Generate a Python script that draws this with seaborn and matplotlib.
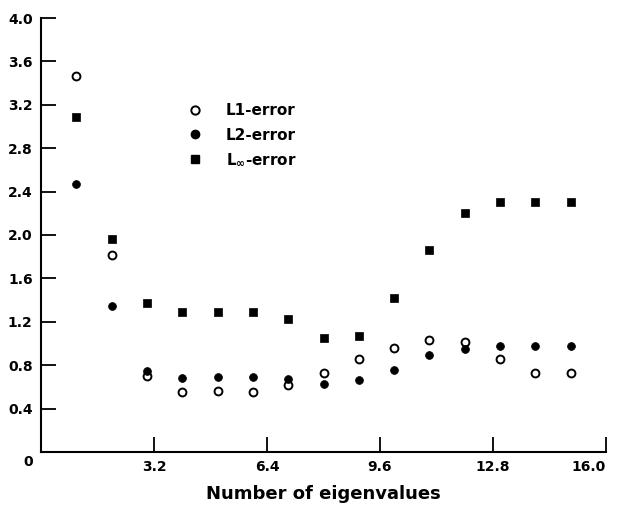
import matplotlib
matplotlib.use("Agg")
import matplotlib.pyplot as plt
import seaborn as sns
import pandas as pd
from matplotlib.lines import Line2D

n_eigen = [1, 2, 3, 4, 5, 6, 7, 8, 9, 10, 11, 12, 13, 14, 15]
l1_error = [3.47, 1.82, 0.70, 0.55, 0.56, 0.55, 0.62, 0.73, 0.86, 0.96, 1.03, 1.01, 0.86, 0.73, 0.73]
l2_error = [2.47, 1.35, 0.75, 0.68, 0.69, 0.69, 0.67, 0.63, 0.66, 0.76, 0.89, 0.95, 0.98, 0.98, 0.98]
linf_error = [3.09, 1.96, 1.37, 1.29, 1.29, 1.29, 1.23, 1.05, 1.07, 1.42, 1.86, 2.20, 2.30, 2.30, 2.30]

x_ticks = [0, 3.2, 6.4, 9.6, 12.8, 16.0]
x_ticklabels = ["", "3.2", "6.4", "9.6", "12.8", "16.0"]
y_ticks = [0.4, 0.8, 1.2, 1.6, 2.0, 2.4, 2.8, 3.2, 3.6, 4.0]
y_ticklabels = ["0.4", "0.8", "1.2", "1.6", "2.0", "2.4", "2.8", "3.2", "3.6", "4.0"]
legend_labels = ["L1-error", "L2-error", r"L$_{\infty}$-error"]

sns.set_style("ticks")
plt.rcParams["font.family"] = ["DejaVu Sans"]
plt.rcParams["font.weight"] = "bold"
plt.rcParams["text.color"] = "black"
plt.rcParams["axes.labelcolor"] = "black"
plt.rcParams["xtick.color"] = "black"
plt.rcParams["ytick.color"] = "black"

df = pd.DataFrame({"n": n_eigen, "l1": l1_error, "l2": l2_error, "linf": linf_error})

fig = plt.figure(figsize=(6.18, 5.09), dpi=100)
ax = fig.add_axes([41/618, 1 - 452/509, (606-41)/618, (452-18)/509])

sns.scatterplot(data=df, x="n", y="l1", ax=ax, marker="o", color="white",
                edgecolor="black", linewidth=1.4, s=32, zorder=3)
sns.scatterplot(data=df, x="n", y="l2", ax=ax, marker="o", color="black",
                edgecolor="black", linewidth=0.5, s=32, zorder=3)
sns.scatterplot(data=df, x="n", y="linf", ax=ax, marker="s", color="black",
                edgecolor="black", linewidth=0.5, s=34, zorder=3)

ax.set_xlim(0, 16.0)
ax.set_ylim(0, 4.0)
ax.set_xticks(x_ticks)
ax.set_xticklabels(x_ticklabels)
ax.set_yticks(y_ticks)
ax.set_yticklabels(y_ticklabels)
ax.tick_params(axis="both", direction="in", length=11, width=1.3, labelsize=10, pad=6, colors="black")
for lab in ax.get_xticklabels() + ax.get_yticklabels():
    lab.set_fontweight("bold")
    lab.set_color("black")
ax.get_xticklabels()[-1].set_horizontalalignment("right")
for side in ["top", "right"]:
    ax.spines[side].set_visible(False)
for side in ["left", "bottom"]:
    ax.spines[side].set_linewidth(1.5)
    ax.spines[side].set_color("black")

ax.set_xlabel("Number of eigenvalues", fontsize=13, fontweight="bold", labelpad=8, color="black")
ax.set_ylabel("")
ax.text(-0.023, -0.023, "0", transform=ax.transAxes, ha="center", va="center",
        fontsize=10, fontweight="bold", color="black")

handles = [
    Line2D([], [], marker="o", linestyle="none", markerfacecolor="white", markeredgecolor="black",
           markeredgewidth=1.4, markersize=6),
    Line2D([], [], marker="o", linestyle="none", markerfacecolor="black", markeredgecolor="black",
           markersize=6),
    Line2D([], [], marker="s", linestyle="none", markerfacecolor="black", markeredgecolor="black",
           markersize=6),
]
leg = ax.legend(handles, legend_labels, loc="upper left", bbox_to_anchor=(0.235, 0.835),
                frameon=False, handlelength=1.0, handletextpad=1.5, labelspacing=0.6,
                prop={"size": 11, "weight": "bold"})
for t in leg.get_texts():
    t.set_color("black")

fig.savefig("out.png", dpi=100)
